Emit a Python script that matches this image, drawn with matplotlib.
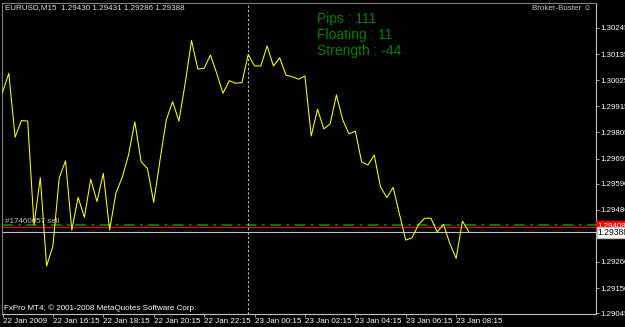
import matplotlib
matplotlib.use("Agg")
import matplotlib.pyplot as plt

# ---------------- data ----------------
close_prices = [
    1.29974, 1.30054, 1.29785, 1.29855, 1.29853, 1.29416, 1.29615, 1.29243,
    1.29327, 1.29613, 1.29686, 1.29394, 1.29532, 1.29448, 1.29608, 1.29514,
    1.29633, 1.29394, 1.29550, 1.29616, 1.29710, 1.29850, 1.29682, 1.29654,
    1.29511, 1.29689, 1.29858, 1.29935, 1.29853, 1.30013, 1.30192, 1.30072,
    1.30075, 1.30131, 1.30054, 1.29970, 1.30023, 1.30012, 1.30015, 1.30133,
    1.30085, 1.30085, 1.30169, 1.30085, 1.30119, 1.30046, 1.30040, 1.30029,
    1.30043, 1.29790, 1.29903, 1.29820, 1.29841, 1.29963, 1.29858, 1.29799,
    1.29811, 1.29681, 1.29668, 1.29710, 1.29576, 1.29531, 1.29574, 1.29462,
    1.29352, 1.29362, 1.29416, 1.29444, 1.29444, 1.29387, 1.29418, 1.29338,
    1.29275, 1.29432, 1.29388,
]
time_tick_bars = [0, 8, 16, 24, 32, 40, 48, 56, 64, 72]
time_tick_labels = ["22 Jan 2009", "22 Jan 16:15", "22 Jan 18:15", "22 Jan 20:15",
                    "22 Jan 22:15", "23 Jan 00:15", "23 Jan 02:15", "23 Jan 04:15",
                    "23 Jan 06:15", "23 Jan 08:15"]
price_ticks = [1.30245, 1.30135, 1.30025, 1.29915, 1.29805, 1.29695, 1.29590,
               1.29480, 1.29370, 1.29260, 1.29150, 1.29045]
order_price = 1.29416
ask_price = 1.29408
bid_price = 1.29388
day_separator_bar = 39
header = "EURUSD,M15  1.29430 1.29431 1.29286 1.29388"
info_lines = ["Pips : 111", "Floating : 11", "Strength : -44"]
order_label = "#17460057 sell"

# ---------------- figure ----------------
W, H = 625, 327
fig = plt.figure(figsize=(W / 100, H / 100), dpi=100, facecolor="black")
ax = fig.add_axes([2 / W, (H - 314) / H, (596 - 2) / W, (314 - 3) / H])
ax.set_facecolor("black")

FS = 5.8
FSY = 5.7
fam = ["Liberation Sans", "DejaVu Sans"]

x = list(range(len(close_prices)))
ax.plot(x, close_prices, color="#ffff00", lw=0.75, zorder=3)

ax.set_xlim(-0.08, 94.2)
ax.set_ylim(1.29041, 1.30350)

# horizontal lines
ax.axhline(order_price, color="#008000", lw=1.3, ls=(0, (6, 3, 1.5, 3)), zorder=2)
ax.axhline(ask_price, color="#ff0000", lw=0.8, zorder=2)
ax.axhline(bid_price, color="#c0c0c0", lw=0.8, zorder=2)
ax.axvline(day_separator_bar, color="#c0c0c0", lw=0.8, ls=(0, (2, 2)), zorder=2)

# spines
for s in ax.spines.values():
    s.set_color("#c0c0c0")
    s.set_linewidth(0.8)
ax.spines["left"].set_color("#808080")
ax.spines["top"].set_color("#808080")

# y axis on right
ax.yaxis.tick_right()
ax.set_yticks(price_ticks)
ax.set_yticklabels([f"{p:.5f}" for p in price_ticks])
ax.tick_params(axis="y", colors="#c0c0c0", labelcolor="white", length=2, width=0.6,
               pad=0.8, labelsize=FSY, direction="out")
for t in ax.get_yticklabels():
    t.set_family(fam)

# x axis
ax.set_xticks(time_tick_bars)
ax.set_xticklabels(time_tick_labels, ha="left")
ax.tick_params(axis="x", colors="#c0c0c0", labelcolor="white", length=2.5, width=0.6,
               pad=0.5, labelsize=FS, direction="out")
for t in ax.get_xticklabels():
    t.set_family(fam)

# price boxes on right scale
ax.text(1.003, ask_price + 0.00003, f"{ask_price:.5f}", transform=ax.get_yaxis_transform(),
        ha="left", va="center", fontsize=FSY, family=fam, color="white", zorder=10,
        clip_on=False,
        bbox=dict(boxstyle="square,pad=0.2", fc="#ff0000", ec="#ff0000"))
ax.text(1.003, bid_price - 0.00004, f"{bid_price:.5f}", transform=ax.get_yaxis_transform(),
        ha="left", va="center", fontsize=6.2, family=fam, color="black", zorder=11,
        clip_on=False,
        bbox=dict(boxstyle="square,pad=0.12", fc="white", ec="#c0c0c0"))

# texts
ax.text(3 / 594, 1 - 5 / 311, header, transform=ax.transAxes, ha="left", va="center",
        fontsize=FS, family=fam, color="#e0e0e0")
for k, line in enumerate(info_lines):
    ax.text((317 - 2) / 594, 1 - (19 + 16 * k - 3) / 311, line, transform=ax.transAxes,
            ha="left", va="center", fontsize=10, family=fam, color="#008000")
ax.text((592 - 2) / 594, 1 - (9 - 3) / 311, "Broker-Buster \u263a", transform=ax.transAxes,
        ha="right", va="center", fontsize=FS, family=fam, color="#c8c8c8")
ax.text(3 / 594, order_price, order_label, transform=ax.get_yaxis_transform(),
        ha="left", va="bottom", fontsize=FS, family=fam, color="#c0c0c0")
ax.text(2 / 594, 1 - (308 - 3) / 311,
        "FxPro MT4, \u00a9 2001-2008 MetaQuotes Software Corp.", transform=ax.transAxes,
        ha="left", va="center", fontsize=FS, family=fam, color="white")

fig.savefig("out.png", dpi=100, facecolor="black")
